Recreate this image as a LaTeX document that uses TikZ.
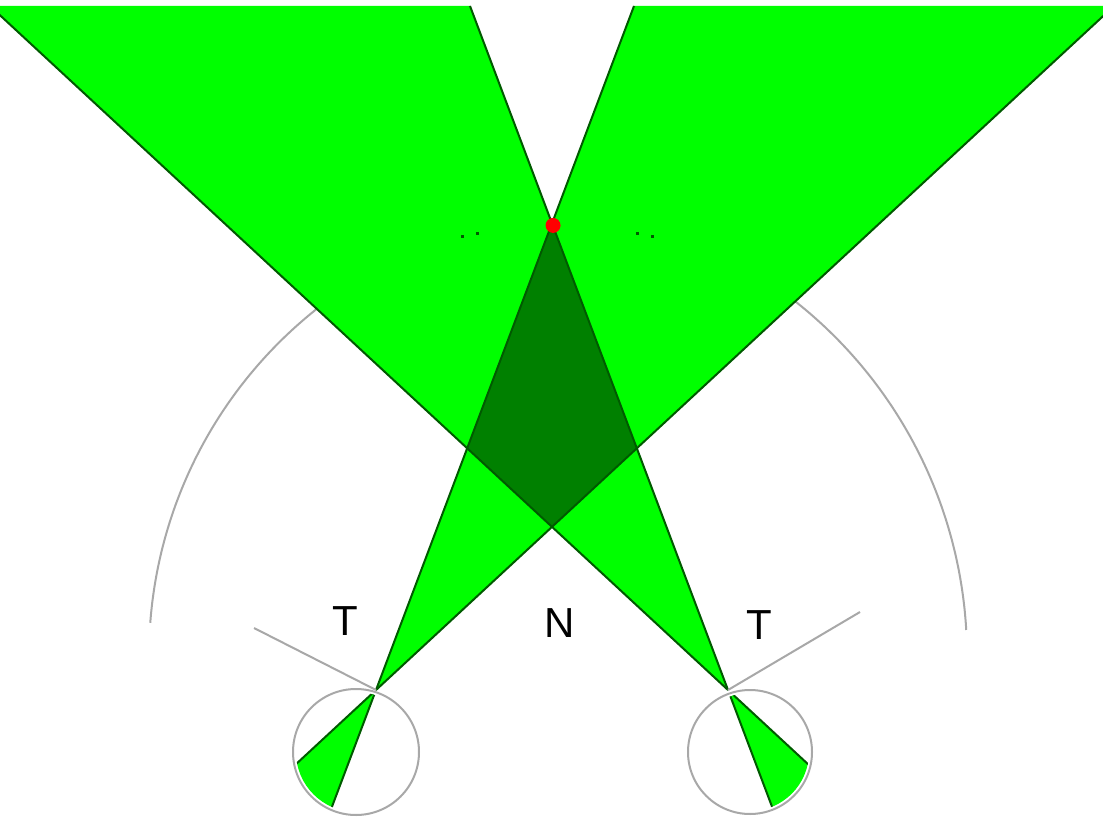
\documentclass[tikz,border=0pt]{standalone}
\usepackage{fontspec}
\setmainfont{Liberation Sans}
\usetikzlibrary{calc}
\definecolor{conegreen}{RGB}{0,255,0}
\definecolor{overlapgreen}{RGB}{0,128,0}
\definecolor{edgegreen}{RGB}{0,90,0}
\definecolor{guidegray}{RGB}{168,168,168}
\definecolor{dotred}{RGB}{255,0,0}
\begin{document}
\begin{tikzpicture}[x=1pt,y=-1pt,
  guide/.style={draw=guidegray,line width=2pt},
  coneedge/.style={draw=edgegreen,line width=2pt},
  lbl/.style={font=\fontsize{42}{42}\selectfont,text=black,inner sep=0pt}]
\useasboundingbox (0,0) rectangle (1103,818);
% eyes and cone end points
\coordinate (L) at (376,690);
\coordinate (R) at (728,690);
\coordinate (LA) at (634,6);
\coordinate (LB) at (1114,6);
\coordinate (RA) at (470,6);
\coordinate (RB) at (-10,6);
% large guide arcs
\draw[guide] plot[domain=184.3:245,samples=90,smooth] ({592+443*cos(\x)},{656+443*sin(\x)});
\draw[guide] plot[domain=295:356.7,samples=90,smooth] ({515+452*cos(\x)},{656+452*sin(\x)});
% cones
\begin{scope}
  \clip (0,6) rectangle (1103,818);
  \fill[conegreen] (L) -- (LA) -- (LB) -- cycle;
  \fill[conegreen] (R) -- (RA) -- (RB) -- cycle;
  \coordinate (Qt) at (intersection of L--LA and R--RA);
  \coordinate (Ql) at (intersection of L--LA and R--RB);
  \coordinate (Qr) at (intersection of L--LB and R--RA);
  \coordinate (Qb) at (intersection of L--LB and R--RB);
  \fill[overlapgreen] (Qt) -- (Qr) -- (Qb) -- (Ql) -- cycle;
  \draw[coneedge] (L) -- (LA);
  \draw[coneedge] (L) -- (LB);
  \draw[coneedge] (R) -- (RA);
  \draw[coneedge] (R) -- (RB);
\end{scope}
% eye circles and small back cones
\draw[guide] (356,752) circle[radius=63];
\draw[guide] (750,752) circle[radius=62];
\begin{scope}
  \clip (356,752) circle[radius=60];
  \fill[conegreen] (L) -- ($(L)!-0.3!(LA)$) -- ($(L)!-0.3!(LB)$) -- cycle;
  \draw[coneedge] (L) -- ($(L)!-0.3!(LA)$);
  \draw[coneedge] (L) -- ($(L)!-0.3!(LB)$);
\end{scope}
\begin{scope}
  \clip (750,752) circle[radius=59];
  \fill[conegreen] (R) -- ($(R)!-0.3!(RA)$) -- ($(R)!-0.3!(RB)$) -- cycle;
  \draw[coneedge] (R) -- ($(R)!-0.3!(RA)$);
  \draw[coneedge] (R) -- ($(R)!-0.3!(RB)$);
\end{scope}
% gaze direction lines
\coordinate (Lg) at (254,628);
\coordinate (Rg) at (860,612);
\draw[guide] (Lg) -- (L);
\draw[guide] (Rg) -- (R);
% fixation point
\node[circle,fill=dotred,minimum size=15pt,inner sep=0pt] (fix) at ($(Qt)+(1,2)$) {};
% tiny specks
\fill[edgegreen] (461,235) rectangle (464,238);
\fill[edgegreen] (476,232) rectangle (479,235);
\fill[edgegreen] (636,232) rectangle (639,235);
\fill[edgegreen] (651,235) rectangle (654,238);
% labels
\node[lbl] (tl) at (345,621) {T};
\node[lbl] (nl) at (560,623) {N};
\node[lbl] (tr) at (759,625) {T};
\end{tikzpicture}
\end{document}
